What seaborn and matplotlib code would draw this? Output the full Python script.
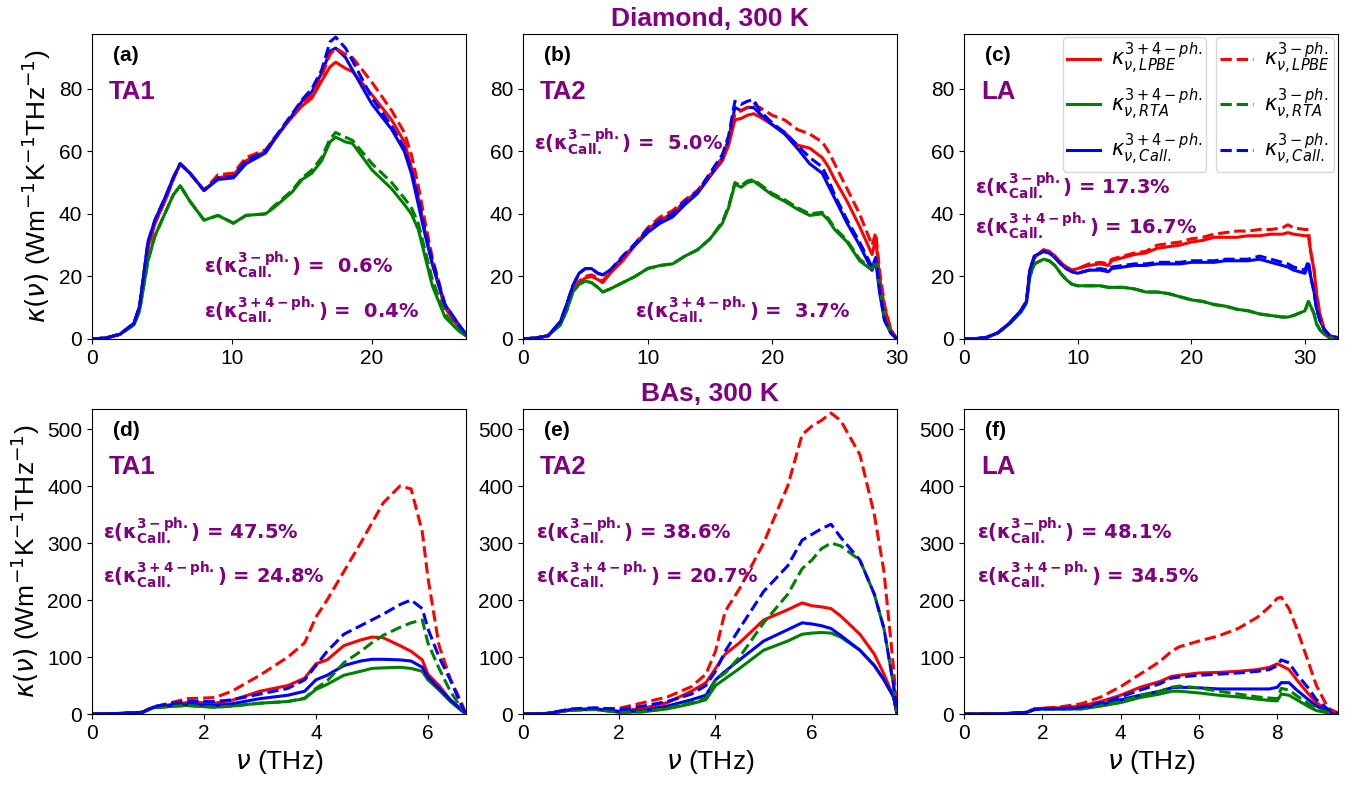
import numpy as np
import seaborn as sns
import matplotlib.pyplot as plt

plt.rcParams['font.family'] = ['Liberation Sans', 'DejaVu Sans']
plt.rcParams['mathtext.fontset'] = 'dejavusans'

# ---- Diamond TA1 (a)
a_x = [0, 1, 2, 3, 3.4, 4, 4.5, 5.3, 5.8, 6.3, 7, 8, 9, 10.1, 11, 12.4, 13, 14.3, 15, 15.7, 16.4, 17, 17.4,
       18.1, 18.6, 20, 21.4, 22.3, 22.8, 23.3, 23.8, 24.3, 25.2, 26.2, 26.7]
a_lpbe = [0, 0.3, 1.5, 5, 10, 29, 37, 45, 51, 56, 53, 47.5, 51.5, 52.5, 57, 60, 64, 71, 74.5, 77, 82.5, 87, 88.5,
          86.5, 85.5, 78, 70, 63, 55, 45, 34, 24, 10, 3.5, 1.5]
a_lpbe3 = [0, 0.3, 1.5, 5, 10, 29, 37, 45, 51, 56, 53, 47.5, 52.5, 53, 58, 60.5, 64, 71.5, 75, 78, 84, 91, 93,
           91, 90, 82, 73, 66, 59, 49, 37, 26, 11, 4, 1.5]
a_rta = [0, 0.3, 1.5, 4.5, 9, 25, 33, 41, 46, 49, 44, 38, 39.5, 37, 39.5, 40, 42, 47, 51, 53, 57, 63, 64.5,
         63, 62.5, 54, 48, 43, 40, 35, 26, 17, 7, 2.5, 1]
a_rta3 = [0, 0.3, 1.5, 4.5, 9, 25, 33, 41, 46, 49, 44, 38, 39.5, 37, 39.5, 40, 42.5, 47.5, 51.5, 54, 58, 64, 66,
          64.5, 63.5, 56, 50, 45, 42, 37, 28, 19, 8, 3, 1]
a_call = [0, 0.3, 1.5, 5, 10.5, 31, 38, 46, 51.5, 56, 53, 47.5, 51, 51.5, 56, 59.5, 63.5, 71.5, 76, 79, 85, 92, 93,
          90, 86, 75, 67, 60, 53, 43, 33, 24, 11, 4.5, 1.5]
a_call3 = [0, 0.3, 1.5, 5, 10.5, 31, 38, 46, 51.5, 56, 53, 47.5, 51.5, 52, 57, 60, 64, 72, 76.5, 80, 86, 95, 96.5,
           93, 89, 77, 68, 61, 54, 45, 34, 25, 11, 4.5, 1.5]

# ---- Diamond TA2 (b)
b_x = [0, 1, 2, 3, 3.5, 4, 4.5, 5, 5.5, 6, 6.4, 7, 8, 9, 10, 11, 12, 13, 14, 15, 16, 16.5, 17, 17.5, 18, 18.5,
       19, 20, 21, 22, 23, 24, 24.5, 25, 26, 27, 28, 28.3, 28.6, 29, 29.5, 30]
b_lpbe = [0, 0.3, 1, 5, 10, 15.5, 18, 19.5, 20, 19, 18, 21, 25, 30, 35, 38, 40, 44, 47, 52, 57, 62, 70, 70.5, 71.5, 72,
          71, 68.5, 66, 62, 61, 58, 55, 51, 44, 36, 27, 32, 20, 10, 3, 0]
b_lpbe3 = [0, 0.3, 1, 5, 10, 15.5, 18.5, 20, 20.5, 19.5, 18.5, 21.5, 25.5, 30.5, 35.5, 39, 41, 44.5, 47.5, 52.5, 58, 63,
           72, 73, 74, 75, 74, 71.5, 70, 67, 65.5, 63, 60, 56, 48, 40, 30, 34, 22, 11, 3, 0]
b_rta = [0, 0.3, 1, 4.5, 9, 15, 17.5, 18.5, 18, 16.5, 15, 16, 18, 20, 22.5, 23.5, 24, 26.5, 28.5, 32, 37, 42, 49.5,
         48.5, 50, 50.5, 49, 46, 44, 41.5, 39.5, 40, 38, 35, 31, 25, 22, 26, 17, 7, 2, 0]
b_rta3 = [0, 0.3, 1, 4.5, 9, 15, 17.5, 18.5, 18, 16.5, 15, 16, 18, 20, 22.5, 23.5, 24, 26.5, 28.5, 32, 37.5, 42.5, 50,
          49, 50.5, 51, 49.5, 46.5, 44.5, 42, 40, 40.5, 38.5, 35.5, 31.5, 25.5, 22.5, 26, 17, 7, 2, 0]
b_call = [0, 0.3, 1, 5.5, 11, 17, 21, 22.5, 22.5, 21, 20.5, 22, 26, 30, 34, 37, 39, 43, 46.5, 52, 58, 64, 74, 73, 74,
          74, 72, 68.5, 65.5, 61, 56, 53, 49, 45, 37, 30, 22, 25, 15, 6, 2, 0]
b_call3 = [0, 0.3, 1, 5.5, 11, 17, 21, 22.5, 22.5, 21, 20.5, 22, 26.5, 30.5, 35, 38, 40, 44, 47, 53, 59, 65, 76, 75,
           76, 76.5, 73, 69, 66, 62, 58, 55, 51, 46, 38, 31, 23, 26, 16, 6, 2, 0]

# ---- Diamond LA (c)
c_x = [0, 1, 2, 3, 4, 5, 5.5, 5.8, 6.2, 7, 7.5, 8, 8.5, 9, 9.5, 10, 11, 12, 12.7, 13, 14, 15, 16, 17, 18, 19, 20,
       21, 22, 23, 24, 25, 26, 27, 28, 28.5, 29, 30, 30.3, 30.5, 30.8, 31, 31.3, 31.7, 32.2, 32.8]
c_lpbe = [0, 0.1, 0.5, 2, 5, 9, 12, 22, 26, 28.5, 28, 26.5, 24.5, 23, 22, 22.5, 23.5, 24, 23.5, 25, 26, 27, 27.5,
          29, 29.5, 30, 31, 31.5, 32.5, 32.5, 32.5, 33, 33, 33.5, 33.5, 34, 33.5, 33, 33, 28, 22, 15, 8, 3, 0.5, 0]
c_lpbe3 = [0, 0.1, 0.5, 2, 5, 9, 12, 22, 26, 28.5, 28, 26.5, 24.5, 23, 22, 22.5, 24, 24.5, 24, 25.5, 26.5, 27.5, 28,
           30, 30.5, 31, 32, 32.5, 33.5, 34, 34.5, 34.5, 35, 35, 35.5, 36.5, 35.5, 35, 35, 28, 22, 15, 8, 3, 0.5, 0]
c_rta = [0, 0.1, 0.5, 2, 4.8, 8.5, 11.5, 20, 24, 25.5, 25, 23.5, 21, 19, 17.5, 17, 17, 17, 16.5, 16.5, 16.5, 16, 15,
         15, 14.5, 13.5, 12.5, 12, 11, 10.5, 9.5, 9, 8, 7.5, 7, 7, 7.5, 9, 12, 10.5, 8, 5, 3, 1.5, 0.3, 0]
c_rta3 = [0, 0.1, 0.5, 2, 4.8, 8.5, 11.5, 20, 24, 25.5, 25, 23.5, 21, 19, 17.5, 17, 17, 17, 16.5, 16.5, 16.5, 16,
          15, 15, 14.5, 13.5, 12.5, 12, 11, 10.5, 9.5, 9, 8, 7.5, 7, 7, 7.5, 9, 12, 10.5, 8, 5, 3, 1.5, 0.3, 0]
c_call = [0, 0.1, 0.5, 2, 5, 9, 12, 22, 26.5, 28, 27.5, 26, 24, 22.5, 21.5, 21, 22, 22, 21.5, 22.5, 23, 23.5, 23.5,
          24, 24, 24, 24.5, 24.5, 24.5, 25, 25, 25, 25.5, 24.5, 23.5, 23, 22, 21, 24, 20, 15, 10, 6, 3, 1, 0.5]
c_call3 = [0, 0.1, 0.5, 2, 5, 9, 12, 22, 26.5, 28, 27.5, 26, 24, 22.5, 21.5, 21, 22, 22.5, 22, 23, 23.5, 24, 24,
           24.5, 24.5, 24.5, 25, 25, 25, 25.5, 25.5, 25.5, 26.5, 25.5, 24.5, 24, 23, 22, 25, 20, 15, 10, 6, 3, 1, 0.5]

# ---- BAs TA1 (d)
d_x = [0, 0.5, 0.9, 1.1, 1.5, 1.7, 2.0, 2.2, 2.5, 3.0, 3.5, 3.8, 4.0, 4.2, 4.5, 4.8, 5.0, 5.2, 5.5, 5.7, 5.9,
       6.0, 6.2, 6.4, 6.6, 6.68]
d_lpbe = [0, 1, 3, 12, 18, 20, 20, 19, 24, 40, 50, 63, 88, 95, 120, 130, 135, 134, 120, 110, 95, 70, 50, 25, 8, 0]
d_lpbe3 = [0, 1, 3, 12, 22, 27, 28, 29, 40, 68, 100, 125, 170, 200, 250, 300, 335, 370, 400, 395, 320, 240, 120,
           62, 20, 0]
d_rta = [0, 1, 3, 11, 14, 15, 13, 12, 14, 19, 22, 27, 43, 52, 68, 75, 80, 81, 82, 80, 75, 60, 42, 22, 6, 0]
d_rta3 = [0, 1, 3, 11, 14, 15, 13, 12, 14, 19, 22, 28, 45, 58, 90, 110, 125, 138, 152, 160, 165, 125, 80, 40,
          10, 0]
d_call = [0, 1, 3, 12, 16, 17, 16, 15, 18, 27, 33, 40, 60, 68, 85, 93, 96, 96, 95, 93, 82, 65, 45, 25, 7, 0]
d_call3 = [0, 1, 3, 13, 20, 22, 22, 22, 25, 35, 45, 60, 85, 110, 140, 155, 165, 175, 192, 200, 185, 150, 100,
           60, 15, 0]

# ---- BAs TA2 (e)
e_x = [0, 0.5, 1, 1.5, 2, 2.5, 3, 3.5, 3.8, 4, 4.2, 4.5, 5, 5.5, 5.8, 6, 6.2, 6.4, 6.6, 7, 7.3, 7.5, 7.7, 7.77]
e_lpbe = [0, 1, 7, 9, 5, 10, 20, 40, 55, 80, 105, 125, 165, 183, 195, 190, 188, 185, 172, 140, 105, 70, 30, 0]
e_lpbe3 = [0, 1, 7, 9, 10, 20, 30, 48, 70, 110, 180, 220, 300, 400, 490, 505, 515, 528, 515, 455, 350, 250, 80, 0]
e_rta = [0, 1, 7, 8, 3, 4, 9, 18, 25, 50, 62, 80, 112, 128, 140, 142, 143, 142, 135, 112, 85, 60, 30, 0]
e_rta3 = [0, 1, 7, 8, 3, 4, 10, 20, 28, 60, 72, 100, 160, 210, 255, 270, 290, 300, 295, 270, 210, 150, 50, 0]
e_call = [0, 1, 8, 9, 4, 6, 14, 25, 33, 60, 75, 95, 128, 148, 160, 158, 155, 150, 138, 112, 85, 60, 30, 0]
e_call3 = [0, 1, 9, 11, 8, 14, 22, 35, 50, 75, 110, 150, 215, 260, 305, 315, 325, 333, 310, 270, 210, 150, 50, 0]

# ---- BAs LA (f)
f_x = [0, 1, 1.6, 1.8, 2, 2.5, 3, 3.5, 4, 4.5, 5, 5.3, 5.5, 6, 6.5, 7, 7.5, 7.8, 8, 8.1, 8.3, 8.5, 8.8, 9, 9.3, 9.55]
f_lpbe = [0, 0.5, 3, 9, 10, 11, 14, 22, 33, 47, 57, 66, 68, 72, 73, 75, 78, 82, 88, 85, 78, 60, 35, 20, 5, 1]
f_lpbe3 = [0, 0.5, 3, 9, 10, 13, 18, 30, 48, 70, 92, 110, 118, 128, 137, 150, 170, 188, 203, 205, 185, 150, 90,
           50, 10, 2]
f_rta = [0, 0.5, 3, 8, 9, 9, 9, 14, 20, 29, 35, 40, 40, 37, 33, 30, 26, 24, 23, 35, 33, 25, 13, 6, 2, 0]
f_rta3 = [0, 0.5, 3, 8, 9, 9, 9, 15, 22, 32, 40, 47, 49, 46, 40, 35, 30, 28, 27, 45, 42, 32, 18, 10, 3, 0.5]
f_call = [0, 0.5, 3, 8, 9, 9, 10, 17, 25, 33, 40, 46, 47, 46, 44, 44, 44, 44, 47, 55, 55, 42, 25, 14, 4, 1]
f_call3 = [0, 0.5, 3, 8, 9, 10, 12, 20, 30, 42, 53, 63, 65, 68, 70, 72, 75, 78, 85, 95, 90, 70, 45, 25, 8, 1]

panel_tags = ['(a)', '(b)', '(c)', '(d)', '(e)', '(f)']
mode_names = ['TA1', 'TA2', 'LA', 'TA1', 'TA2', 'LA']
err3 = [' 0.6%', ' 5.0%', '17.3%', '47.5%', '38.6%', '48.1%']
err34 = [' 0.4%', ' 3.7%', '16.7%', '24.8%', '20.7%', '34.5%']
xmax = [26.7, 30, 32.9, 6.68, 7.77, 9.55]

panels = [
    (a_x, a_lpbe, a_rta, a_call, a_lpbe3, a_rta3, a_call3),
    (b_x, b_lpbe, b_rta, b_call, b_lpbe3, b_rta3, b_call3),
    (c_x, c_lpbe, c_rta, c_call, c_lpbe3, c_rta3, c_call3),
    (d_x, d_lpbe, d_rta, d_call, d_lpbe3, d_rta3, d_call3),
    (e_x, e_lpbe, e_rta, e_call, e_lpbe3, e_rta3, e_call3),
    (f_x, f_lpbe, f_rta, f_call, f_lpbe3, f_rta3, f_call3),
]

colors = ['red', 'green', 'blue']
labels34 = [r'$\kappa_{\nu,LPBE}^{3+4-ph.}$', r'$\kappa_{\nu,RTA}^{3+4-ph.}$', r'$\kappa_{\nu,Call.}^{3+4-ph.}$']
labels3 = [r'$\kappa_{\nu,LPBE}^{3-ph.}$', r'$\kappa_{\nu,RTA}^{3-ph.}$', r'$\kappa_{\nu,Call.}^{3-ph.}$']

# annotation positions (axes fraction): first eps, second eps
eps_pos = [((0.30, 0.24), (0.30, 0.095)),
           ((0.03, 0.645), (0.30, 0.095)),
           ((0.03, 0.50), (0.03, 0.37)),
           ((0.03, 0.60), (0.03, 0.455)),
           ((0.035, 0.60), (0.035, 0.455)),
           ((0.035, 0.60), (0.035, 0.455))]

purple = '#800080'
fig = plt.figure(figsize=(13.64, 7.85), dpi=100)
lefts = [0.0674, 0.3834, 0.7067]
bottoms = [0.5682, 0.0904]
w, h = 0.2742, 0.3885

axes = []
for i, data in enumerate(panels):
    ax = fig.add_axes([lefts[i % 3], bottoms[i // 3], w, h])
    axes.append(ax)
    xs = np.array(data[0])
    for j in range(3):
        sns.lineplot(x=xs, y=np.array(data[1 + j]), ax=ax, color=colors[j], lw=2.2,
                     legend=False, label=labels34[j])
    for j in range(3):
        sns.lineplot(x=xs, y=np.array(data[4 + j]), ax=ax, color=colors[j], lw=2.2,
                     linestyle='--', legend=False, label=labels3[j])
    ax.set_xlim(0, xmax[i])
    ax.set_ylim(0, 97.5 if i < 3 else 535)
    ax.tick_params(labelsize=15)
    ax.text(0.056, 0.93, panel_tags[i], transform=ax.transAxes, fontsize=15, fontweight='bold',
            va='center', ha='left')
    ax.text(0.045, 0.81, mode_names[i], transform=ax.transAxes, fontsize=18.5, fontweight='bold',
            color=purple, va='center', ha='left')
    p1, p2 = eps_pos[i]
    ax.text(p1[0], p1[1], r'$\mathbf{\varepsilon(\kappa_{Call.}^{3-ph.})}$ = ' + err3[i],
            transform=ax.transAxes, fontsize=14, fontweight='bold', family='DejaVu Sans',
            color=purple, va='center', ha='left')
    ax.text(p2[0], p2[1], r'$\mathbf{\varepsilon(\kappa_{Call.}^{3+4-ph.})}$ = ' + err34[i],
            transform=ax.transAxes, fontsize=14, fontweight='bold', family='DejaVu Sans',
            color=purple, va='center', ha='left')
    if i >= 3:
        ax.set_xlabel(r'$\nu$ (THz)', fontsize=19)
    if i % 3 == 0:
        ax.set_ylabel(r'$\kappa(\nu)$ (Wm$^{-1}$K$^{-1}$THz$^{-1}$)', fontsize=19)

axes[1].set_title('Diamond, 300 K', fontsize=19, fontweight='bold', color=purple)
axes[4].set_title('BAs, 300 K', fontsize=19, fontweight='bold', color=purple)

# two legends in panel (c)
lines = axes[2].get_lines()
leg_kw = dict(loc='upper right', borderaxespad=0, fontsize=15, handlelength=1.6,
              handletextpad=0.5, borderpad=0.2, labelspacing=0.45)
leg1 = axes[2].legend(lines[:3], labels34, bbox_to_anchor=(0.648, 0.99), **leg_kw)
axes[2].add_artist(leg1)
axes[2].legend(lines[3:6], labels3, bbox_to_anchor=(0.99, 0.99), **leg_kw)

fig.savefig('out.png', dpi=100)
